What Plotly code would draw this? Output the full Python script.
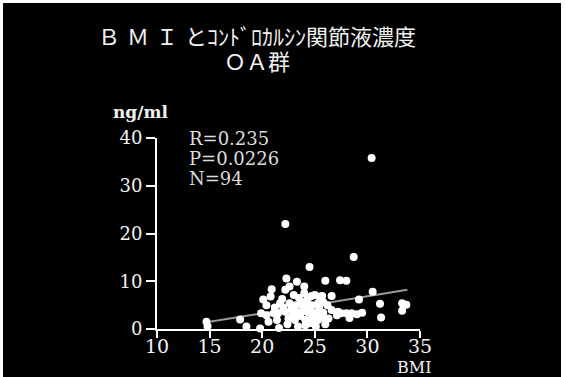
import plotly.graph_objects as go

# ---- data ----
bmi = [14.7, 14.8, 17.9, 18.5, 19.8, 19.9, 20.1, 20.4, 20.4, 20.6,
       20.9, 21.1, 21.4, 21.5, 21.6, 21.7, 22.2, 22.2, 22.2, 22.3,
       22.5, 22.6, 22.6, 23.0, 23.1, 23.3, 23.3, 23.4, 23.7, 23.8,
       24.0, 24.1, 24.1, 24.2, 24.4, 24.5, 24.7, 24.7, 24.7, 25.0,
       25.0, 25.1, 25.2, 25.3, 25.3, 25.5, 25.7, 25.8, 26.0, 26.0,
       26.0, 26.3, 26.6, 26.6, 27.1, 27.4, 27.5, 28.0, 28.0, 28.3,
       28.5, 28.7, 29.0, 29.2, 29.5, 30.4, 30.5, 31.2, 31.3, 33.3,
       33.7, 33.3, 22.0, 22.8, 23.5, 23.9, 24.3, 24.6, 24.9, 25.4,
       25.6, 23.6, 22.9, 24.5, 25.8, 21.2, 20.8, 26.2, 24.0, 23.2,
       22.4, 27.2, 25.5, 21.9]
chondrocalcin = [1.5, 0.6, 2.0, 0.5, 0.1, 3.3, 6.2, 5.0, 2.9, 1.5,
                 8.3, 3.3, 1.9, 3.3, 0.2, 5.4, 22.0, 8.2, 3.6, 10.6,
                 2.2, 8.9, 5.4, 7.1, 1.9, 9.9, 3.4, 0.5, 5.7, 3.6,
                 8.9, 1.9, 0.8, 5.4, 3.4, 13.0, 6.9, 5.0, 2.2, 7.1,
                 1.0, 0.5, 3.4, 5.4, 1.9, 6.8, 6.9, 3.4, 10.1, 1.9,
                 1.0, 2.2, 6.9, 4.0, 2.9, 10.2, 3.3, 10.1, 3.3, 2.3,
                 3.3, 15.1, 3.1, 6.2, 3.4, 35.8, 7.8, 5.3, 2.4, 5.4,
                 5.1, 3.8, 4.5, 4.2, 6.5, 4.6, 6.2, 4.2, 3.0, 4.5,
                 2.6, 2.7, 2.9, 1.2, 5.6, 4.5, 6.8, 5.0, 7.5, 5.0,
                 1.0, 3.6, 6.0, 6.3]
fit_bmi = [15.0, 33.8]
fit_val = [1.5, 8.2]
x_ticks = [10, 15, 20, 25, 30, 35]
y_ticks = [0, 10, 20, 30, 40]
stats_lines = ["R=0.235", "P=0.0226", "N=94"]
title_lines = ["Ｂ Ｍ Ｉ とｺﾝﾄﾞﾛｶﾙｼﾝ関節液濃度", "ＯＡ群"]
y_unit = "ng/ml"
x_name = "BMI"

# ---- layout geometry (pixels) ----
W, H = 566, 377
L, R, T, B = 157, 420, 138, 329  # plot area in px


def px(x):
    return (x - L) / (R - L)


def py(y):
    return (B - y) / (B - T)


SERIF = "DejaVu Serif, Liberation Serif, Noto Sans CJK JP, serif"
TXT = "#f2f2f2"

fig = go.Figure()
fig.add_trace(go.Scatter(x=fit_bmi, y=fit_val, mode="lines",
                         line=dict(color="#9a9a9a", width=2),
                         hoverinfo="skip", showlegend=False))
fig.add_trace(go.Scatter(x=bmi, y=chondrocalcin, mode="markers",
                         marker=dict(color="white", size=8, line=dict(width=0)),
                         cliponaxis=False, showlegend=False))

annotations = []
annotations.append(dict(x=px(257), y=py(38), xref="paper", yref="paper",
                        text=title_lines[0], showarrow=False,
                        font=dict(family=SERIF, size=22, color=TXT),
                        xanchor="center", yanchor="middle"))
annotations.append(dict(x=px(257), y=py(62), xref="paper", yref="paper",
                        text=title_lines[1], showarrow=False,
                        font=dict(family=SERIF, size=22, color=TXT),
                        xanchor="center", yanchor="middle"))
annotations.append(dict(x=px(140), y=py(112), xref="paper", yref="paper",
                        text="<b>" + y_unit + "</b>", showarrow=False,
                        font=dict(family=SERIF, size=17, color=TXT),
                        xanchor="center", yanchor="middle"))
for i, s in enumerate(stats_lines):
    annotations.append(dict(x=px(187), y=py(138 + 20 * i), xref="paper", yref="paper",
                            text=s, showarrow=False,
                            font=dict(family=SERIF, size=18, color="#dcdcdc"),
                            xanchor="left", yanchor="middle"))
annotations.append(dict(x=px(414), y=py(367), xref="paper", yref="paper",
                        text=x_name, showarrow=False,
                        font=dict(family=SERIF, size=16, color=TXT),
                        xanchor="center", yanchor="middle"))

white_edges = [
    dict(type="rect", xref="paper", yref="paper", x0=px(0), x1=px(W), y0=py(3), y1=py(0),
         fillcolor="white", line=dict(width=0), layer="above"),
    dict(type="rect", xref="paper", yref="paper", x0=px(0), x1=px(3), y0=py(H), y1=py(0),
         fillcolor="white", line=dict(width=0), layer="above"),
    dict(type="rect", xref="paper", yref="paper", x0=px(561), x1=px(W), y0=py(H), y1=py(0),
         fillcolor="white", line=dict(width=0), layer="above"),
]

fig.update_layout(
    width=W, height=H,
    margin=dict(l=L, r=W - R, t=T, b=H - B, pad=0),
    paper_bgcolor="black", plot_bgcolor="black",
    annotations=annotations, shapes=white_edges,
    xaxis=dict(range=[10, 35], tickvals=x_ticks, showgrid=False, zeroline=False,
               showline=True, linecolor="white", linewidth=2,
               ticks="outside", ticklen=7, tickwidth=2, tickcolor="white",
               ticklabelstandoff=-8,
               tickfont=dict(family=SERIF, size=19, color=TXT)),
    yaxis=dict(range=[0, 40], tickvals=y_ticks, showgrid=False, zeroline=False,
               showline=True, linecolor="white", linewidth=2,
               ticks="outside", ticklen=9, tickwidth=2, tickcolor="white",
               tickfont=dict(family=SERIF, size=18, color=TXT)),
)
fig.write_html("out.html", config={"displayModeBar": False},
               post_script=("document.body.style.margin='0';"
                            "document.body.style.overflow='hidden';"
                            "document.body.style.background='black';"
                            "document.documentElement.style.background='black';"))
